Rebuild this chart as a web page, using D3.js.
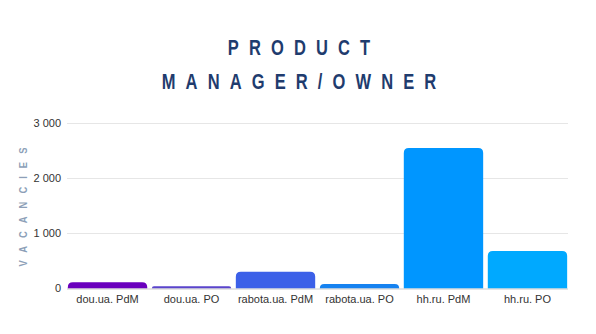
<!DOCTYPE html>
<html>
<head>
<meta charset="utf-8">
<script src="https://cdn.jsdelivr.net/npm/d3@7"></script>
<style>
  body { margin: 0; background: #fff; }
  svg { display: block; }
</style>
</head>
<body>
<svg id="chart"></svg>
<script>
/* ---- data ---- */
const categories = ["dou.ua. PdM", "dou.ua. PO", "rabota.ua. PdM", "rabota.ua. PO", "hh.ru. PdM", "hh.ru. PO"];
const vacancies = [115, 40, 305, 80, 2555, 680];
const barColors = ["#6a00bd", "#5a44cc", "#3c60e8", "#1682f0", "#0096ff", "#00a9ff"];
const yTicks = [0, 1000, 2000, 3000];
const titleLines = ["PRODUCT", "MANAGER/OWNER"];
const yTitle = "VACANCIES";

/* ---- setup ---- */
const width = 596, height = 334;
const margin = { top: 123.5, right: 28, bottom: 45.5, left: 67 };

const svg = d3.select("#chart").attr("width", width).attr("height", height);

const x = d3.scaleBand()
    .domain(categories)
    .range([margin.left, width - margin.right])
    .paddingInner(0.055)
    .paddingOuter(0.01);

const y = d3.scaleLinear()
    .domain([0, 3000])
    .range([height - margin.bottom, margin.top]);

const fmt = v => d3.format(",")(v).replace(/,/g, " ");

// gridlines
svg.append("g")
    .selectAll("line")
    .data(yTicks.filter(t => t > 0))
    .join("line")
    .attr("x1", margin.left)
    .attr("x2", width - margin.right)
    .attr("y1", d => y(d))
    .attr("y2", d => y(d))
    .attr("stroke", "#e6e6e6")
    .attr("stroke-width", 1);

// y tick labels
svg.append("g")
    .selectAll("text")
    .data(yTicks)
    .join("text")
    .attr("x", margin.left - 6)
    .attr("y", d => y(d))
    .attr("dy", "0.35em")
    .attr("text-anchor", "end")
    .attr("font-family", "Liberation Sans, Arial, sans-serif")
    .attr("font-size", 11)
    .attr("fill", "#333")
    .text(fmt);

// bars with rounded top corners
const r = 5;
function barPath(d, i) {
    const x0 = x(categories[i]);
    const w = x.bandwidth();
    const y0 = y(0);
    const y1 = y(d);
    const rr = Math.min(r, (y0 - y1), w / 2);
    return `M${x0},${y0}V${y1 + rr}Q${x0},${y1} ${x0 + rr},${y1}` +
        `H${x0 + w - rr}Q${x0 + w},${y1} ${x0 + w},${y1 + rr}V${y0}Z`;
}

svg.append("g")
    .selectAll("path")
    .data(vacancies)
    .join("path")
    .attr("d", barPath)
    .attr("fill", (d, i) => barColors[i]);

// baseline
svg.append("line")
    .attr("x1", margin.left)
    .attr("x2", width - margin.right)
    .attr("y1", y(0) + 0.5)
    .attr("y2", y(0) + 0.5)
    .attr("stroke", "#cccccc");

// x axis labels
svg.append("g")
    .selectAll("text")
    .data(categories)
    .join("text")
    .attr("x", d => x(d) + x.bandwidth() / 2)
    .attr("y", y(0) + 14)
    .attr("text-anchor", "middle")
    .attr("font-family", "Liberation Sans, Arial, sans-serif")
    .attr("font-size", 11)
    .attr("fill", "#333")
    .text(d => d);

// title: condensed by horizontal scale, spaced out
const titleSpacing = 13.5, titleScale = 0.75;
svg.append("g")
    .attr("transform", `translate(${width / 2 + 1}, 0) scale(${titleScale}, 1)`)
    .selectAll("text")
    .data(titleLines)
    .join("text")
    .attr("x", titleSpacing / 2)
    .attr("y", (d, i) => 55 + i * 34)
    .attr("text-anchor", "middle")
    .attr("font-family", "Liberation Sans, sans-serif")
    .attr("font-weight", "bold")
    .attr("font-size", 22)
    .attr("letter-spacing", titleSpacing)
    .attr("fill", "#1f3c6e")
    .text(d => d);

// y axis title
svg.append("g")
    .attr("transform", `translate(27, 203) rotate(-90) scale(0.85, 1)`)
    .append("text")
    .attr("text-anchor", "middle")
    .attr("font-family", "Liberation Sans, sans-serif")
    .attr("font-weight", "bold")
    .attr("font-size", 11)
    .attr("letter-spacing", 9.5)
    .attr("fill", "#8d9fb8")
    .text(yTitle);
</script>
</body>
</html>
